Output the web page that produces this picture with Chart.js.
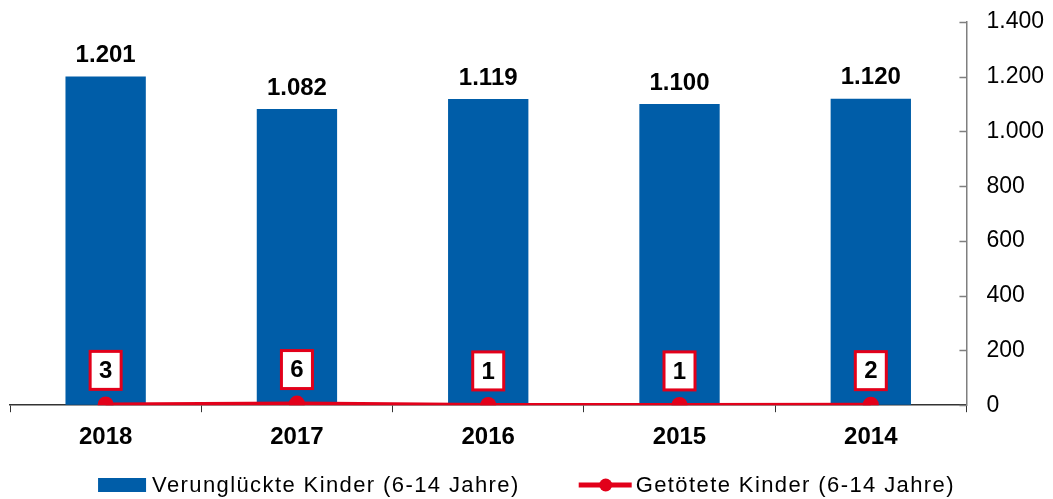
<!DOCTYPE html>
<html lang="de">
  <head>
    <meta charset="UTF-8" />
    <title>Verunglückte und getötete Kinder</title>
    <script src="https://cdn.jsdelivr.net/npm/chart.js"></script>
    <style>
      html, body { margin: 0; padding: 0; background: #fff; }
      #wrap { width: 1053px; height: 499px; }
    </style>
  </head>
  <body>
    <div id="wrap"><canvas id="kinderChart" width="1053" height="499"></canvas></div>

    <script>
      let years = ['2018', '2017', '2016', '2015', '2014'];

      let verunglueckt = [1201, 1082, 1119, 1100, 1120];
      let getoetet = [3, 6, 1, 1, 2];

      let yTicks = [0, 200, 400, 600, 800, 1000, 1200, 1400];

      const BLUE = '#005DA8';
      const RED = '#E2001A';
      const FONT = "'Liberation Sans', Arial, sans-serif";

      function fmt(v) {
        return v.toLocaleString('de-DE');
      }

      // value labels above bars, boxed labels above the line points
      var labelPlugin = {
        id: 'labels',
        afterDatasetsDraw(chart) {
          let ctx = chart.ctx;
          ctx.save();
          ctx.textAlign = 'center';
          ctx.textBaseline = 'middle';

          let bars = chart.getDatasetMeta(0);
          ctx.font = 'bold 24px ' + FONT;
          ctx.fillStyle = '#000';
          bars.data.forEach((el, i) => {
            ctx.fillText(fmt(verunglueckt[i]), el.x, el.y - 21);
          });

          let pts = chart.getDatasetMeta(1);
          pts.data.forEach((el, i) => {
            let cy = el.y - 34;
            ctx.fillStyle = '#fff';
            ctx.fillRect(el.x - 15.5, cy - 19, 31, 38);
            ctx.lineWidth = 3;
            ctx.strokeStyle = RED;
            ctx.strokeRect(el.x - 15.5, cy - 19, 31, 38);
            ctx.fillStyle = '#000';
            ctx.font = 'bold 24px ' + FONT;
            ctx.fillText(String(getoetet[i]), el.x, cy + 1);
          });
          ctx.restore();
        },
      };

      // short tick marks on the inner side of the right axis
      var innerTicks = {
        id: 'innerTicks',
        afterDraw(chart) {
          let s = chart.scales.y;
          let ctx = chart.ctx;
          ctx.save();
          ctx.strokeStyle = '#7f7f7f';
          ctx.lineWidth = 1.5;
          s.ticks.forEach((t) => {
            let y = Math.round(s.getPixelForValue(t.value)) + 0.5;
            ctx.beginPath();
            ctx.moveTo(s.left - 7, y);
            ctx.lineTo(s.left, y);
            ctx.stroke();
          });
          ctx.restore();
        },
      };

      // legend under the chart: blue block and red line with dot
      var bottomLegend = {
        id: 'bottomLegend',
        afterDraw(chart) {
          let ctx = chart.ctx;
          let ds = chart.data.datasets;
          ctx.save();
          ctx.font = '22px ' + FONT;
          ctx.letterSpacing = '1.4px';
          ctx.textBaseline = 'middle';
          ctx.textAlign = 'left';
          let w1 = ctx.measureText(ds[0].label).width;
          let w2 = ctx.measureText(ds[1].label).width;
          let total = 48 + 6 + w1 + 59 + 53 + 4 + w2;
          let x = (chart.width - total) / 2;
          let y = 485;

          ctx.fillStyle = ds[0].backgroundColor;
          ctx.fillRect(x, y - 7, 48, 14);
          x += 54;
          ctx.fillStyle = '#000';
          ctx.fillText(ds[0].label, x, y + 1);
          x += w1 + 59;

          ctx.strokeStyle = ds[1].borderColor;
          ctx.lineWidth = 5;
          ctx.beginPath();
          ctx.moveTo(x, y);
          ctx.lineTo(x + 53, y);
          ctx.stroke();
          ctx.fillStyle = ds[1].borderColor;
          ctx.beginPath();
          ctx.arc(x + 27, y, 6.5, 0, Math.PI * 2);
          ctx.fill();
          x += 57;
          ctx.fillStyle = '#000';
          ctx.fillText(ds[1].label, x, y + 1);
          ctx.restore();
        },
      };

      var config = {
        type: 'bar',
        data: {
          labels: years,
          datasets: [
            {
              label: 'Verunglückte Kinder (6-14 Jahre)',
              data: verunglueckt,
              backgroundColor: BLUE,
              categoryPercentage: 1,
              barPercentage: 0.42,
              order: 2,
            },
            {
              type: 'line',
              label: 'Getötete Kinder (6-14 Jahre)',
              data: getoetet,
              borderColor: RED,
              backgroundColor: RED,
              borderWidth: 4,
              pointRadius: 8,
              pointBackgroundColor: RED,
              pointBorderWidth: 0,
              fill: false,
              tension: 0,
              order: 1,
            },
          ],
        },
        options: {
          responsive: false,
          animation: false,
          layout: { padding: { left: 10, right: 9, top: 22, bottom: 36 } },
          plugins: {
            tooltip: { enabled: false },
            legend: { display: false },
          },
          scales: {
            x: {
              grid: {
                drawOnChartArea: false,
                tickLength: 7,
                color: '#333',
              },
              border: { color: '#333', width: 1.5 },
              ticks: {
                color: '#000',
                padding: 11,
                font: { family: FONT, size: 24, weight: 'bold' },
              },
            },
            y: {
              position: 'right',
              min: 0,
              max: 1400,
              afterBuildTicks(scale) {
                scale.ticks = yTicks.map((v) => ({ value: v }));
              },
              grid: {
                drawOnChartArea: false,
                drawTicks: true,
                tickLength: 20,
                tickColor: 'rgba(0,0,0,0)',
              },
              border: { color: '#7f7f7f', width: 1.5 },
              ticks: {
                color: '#000',
                padding: 0,
                font: { family: FONT, size: 23 },
                callback: (v) => fmt(v),
              },
            },
          },
        },
        plugins: [labelPlugin, innerTicks, bottomLegend],
      };

      var kinderChart = new Chart(document.getElementById('kinderChart'), config);
    </script>
  </body>
</html>
